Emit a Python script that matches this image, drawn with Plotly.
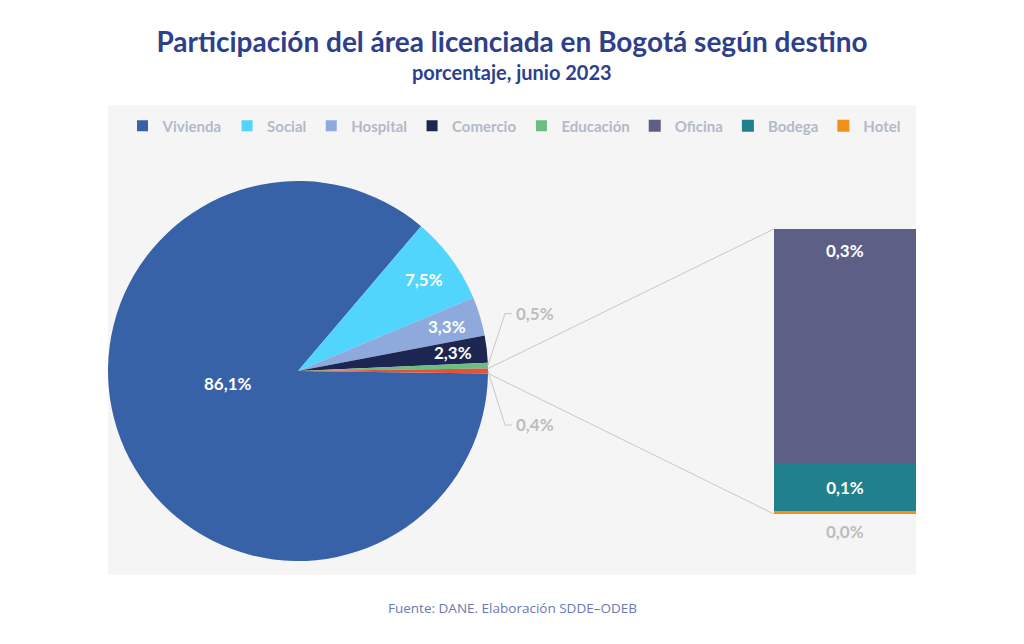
import math
import plotly.graph_objects as go

### Data ###
pie_labels = ["Vivienda", "Social", "Hospital", "Comercio", "Educación", "Otros"]
pie_values = [86.1, 7.5, 3.3, 2.3, 0.5, 0.4]
pie_colors = ["#3762a7", "#52d5fd", "#8eaadd", "#1d2551", "#6dbd82", "#e0533f"]

# breakdown of "Otros" drawn as the stacked bar
bar_labels = ["Oficina", "Bodega", "Hotel"]
bar_values = [0.33, 0.066, 0.004]
bar_colors = ["#5e5f86", "#20808b", "#f39018"]

legend_labels = pie_labels[:5] + bar_labels
legend_colors = pie_colors[:5] + bar_colors

### Layout helpers (screen pixels -> paper), page has an 8px body margin ###
W, H = 1024, 644
OFF = 8


def px(x):
    return (x - OFF) / W


def py(y):
    return 1 - (y - OFF) / H


PANEL = (108, 105, 916, 575)   # left, top, right, bottom
PIE_BOX = (108, 181, 488, 561)
BAR_BOX = (774, 229, 916, 514)

FONT = "Lato"
TITLE_BLUE = "#2e3f8c"
GREY_TXT = "#bdbdbd"
LINE_GREY = "#c8c8c8"
LABEL_SIZE = 17


def fmt(v):
    return f"{v:.1f}%".replace(".", ",")


fig = go.Figure()

# pie starts at 3 o'clock, clockwise, with "Otros" centred on the horizontal
total = sum(pie_values)
rotation = 90 + pie_values[-1] / total * 360 / 2

fig.add_trace(go.Pie(
    labels=pie_labels,
    values=pie_values,
    sort=False,
    direction="clockwise",
    rotation=rotation,
    marker=dict(colors=pie_colors, line=dict(width=0)),
    textinfo="none",
    domain=dict(x=[px(PIE_BOX[0]), px(PIE_BOX[2])], y=[py(PIE_BOX[3]), py(PIE_BOX[1])]),
    showlegend=False,
    hoverinfo="label+percent",
))

# stacked bar: bottom to top is Hotel, Bodega, Oficina
for name, val, col in reversed(list(zip(bar_labels, bar_values, bar_colors))):
    fig.add_trace(go.Bar(
        x=[pie_labels[-1]],
        y=[val],
        name=name,
        marker=dict(color=col, line=dict(width=0)),
        texttemplate="%{y:.1f}%" if name == "Bodega" else "",
        textposition="inside",
        insidetextanchor="middle",
        textfont=dict(family=FONT, size=LABEL_SIZE, color="white", weight="bold"),
        legendrank=legend_labels.index(name),
    ))

# legend entries for the pie slices
for i, (name, col) in enumerate(zip(legend_labels[:5], legend_colors[:5])):
    fig.add_trace(go.Scatter(
        x=[None], y=[None], mode="markers", name=name,
        marker=dict(symbol="square", size=11, color=col),
        legendrank=i,
    ))

# pie geometry for labels, connectors and leader lines
cx = (PIE_BOX[0] + PIE_BOX[2]) / 2
cy = (PIE_BOX[1] + PIE_BOX[3]) / 2
r = min(PIE_BOX[2] - PIE_BOX[0], PIE_BOX[3] - PIE_BOX[1]) / 2


def polar(frac, k=1.0, shift=0.0):
    a = math.radians(rotation + 360 * frac + shift)
    return cx + k * r * math.sin(a), cy - k * r * math.cos(a)


cum = [sum(pie_values[:i]) / total for i in range(len(pie_values) + 1)]
p_top = polar(cum[-2])
p_bot = polar(cum[-1])

shapes = [
    dict(type="rect", xref="paper", yref="paper", layer="below",
         x0=px(PANEL[0]), x1=px(PANEL[2]), y0=py(PANEL[3]), y1=py(PANEL[1]),
         fillcolor="#f5f5f5", line=dict(width=0)),
    dict(type="line", xref="paper", yref="paper",
         x0=px(p_top[0]), y0=py(p_top[1]), x1=px(BAR_BOX[0]), y1=py(BAR_BOX[1]),
         line=dict(color=LINE_GREY, width=1)),
    dict(type="line", xref="paper", yref="paper",
         x0=px(p_bot[0]), y0=py(p_bot[1]), x1=px(BAR_BOX[0]), y1=py(BAR_BOX[3]),
         line=dict(color=LINE_GREY, width=1)),
]

annotations = []

# inside labels: radius fraction and angular nudge per slice
inside_place = [(0.375, 14.7), (0.82, 0), (0.82, 0), (0.82, 0)]
for idx, (k, shift) in enumerate(inside_place):
    lx, ly = polar((cum[idx] + cum[idx + 1]) / 2, k, shift)
    annotations.append(dict(
        x=px(lx), y=py(ly), xref="paper", yref="paper",
        xanchor="center", yanchor="middle", showarrow=False,
        text=fmt(pie_values[idx]),
        font=dict(family=FONT, size=LABEL_SIZE, color="white", weight="bold"),
    ))

# outside labels of the two thin slices, with elbow leader lines
for idx, dy in ((4, -52), (5, 54)):
    ex, ey = polar((cum[idx] + cum[idx + 1]) / 2)
    ly = ey + dy
    shapes.append(dict(
        type="path", xref="paper", yref="paper",
        path=f"M{px(ex)},{py(ey)} L{px(ex + 17)},{py(ly)} L{px(ex + 24)},{py(ly)}",
        line=dict(color=LINE_GREY, width=1),
    ))
    annotations.append(dict(
        x=px(ex + 26), y=py(ly), xref="paper", yref="paper",
        xanchor="left", yanchor="middle", showarrow=False,
        text=fmt(pie_values[idx]),
        font=dict(family=FONT, size=LABEL_SIZE, color=GREY_TXT, weight="bold"),
    ))

annotations += [
    dict(x=pie_labels[-1], y=sum(bar_values), xref="x", yref="y",
         yanchor="middle", yshift=-21, text=fmt(bar_values[0]), showarrow=False,
         font=dict(family=FONT, size=LABEL_SIZE, color="white", weight="bold")),
    dict(x=pie_labels[-1], y=0, xref="x", yref="y", yanchor="top", yshift=-5,
         text=fmt(bar_values[-1]), showarrow=False,
         font=dict(family=FONT, size=LABEL_SIZE, color=GREY_TXT, weight="bold")),
    dict(x=px(512), y=py(72), xref="paper", yref="paper", yanchor="middle",
         text="porcentaje, junio 2023", showarrow=False,
         font=dict(family=FONT, size=20, color=TITLE_BLUE, weight="bold")),
    dict(x=px(512), y=py(608), xref="paper", yref="paper", yanchor="middle",
         text="Fuente: DANE. Elaboración SDDE–ODEB", showarrow=False,
         font=dict(family="Open Sans", size=13.5, color="#6b78b4")),
]

fig.update_layout(
    width=W, height=H,
    margin=dict(l=0, r=0, t=0, b=0),
    paper_bgcolor="white",
    plot_bgcolor="rgba(0,0,0,0)",
    separators=",.",
    barmode="stack",
    bargap=0,
    uniformtext=dict(minsize=LABEL_SIZE, mode="show"),
    title=dict(
        text="Participación del área licenciada en Bogotá según destino",
        x=px(512), xanchor="center", y=py(42), yanchor="middle", yref="container",
        font=dict(family=FONT, size=28, color=TITLE_BLUE, weight="bold"),
    ),
    legend=dict(
        orientation="h", x=px(514), xanchor="center", y=py(126), yanchor="middle",
        font=dict(family=FONT, size=15, color="#b3b9c9", weight="bold"),
        itemwidth=30, bgcolor="rgba(0,0,0,0)", traceorder="normal",
    ),
    xaxis=dict(domain=[px(BAR_BOX[0]), px(BAR_BOX[2])], visible=False, fixedrange=True),
    yaxis=dict(domain=[py(BAR_BOX[3]), py(BAR_BOX[1])], range=[0, sum(bar_values)],
               visible=False, fixedrange=True),
    shapes=shapes,
    annotations=annotations,
)

fig.write_html("out.html")
